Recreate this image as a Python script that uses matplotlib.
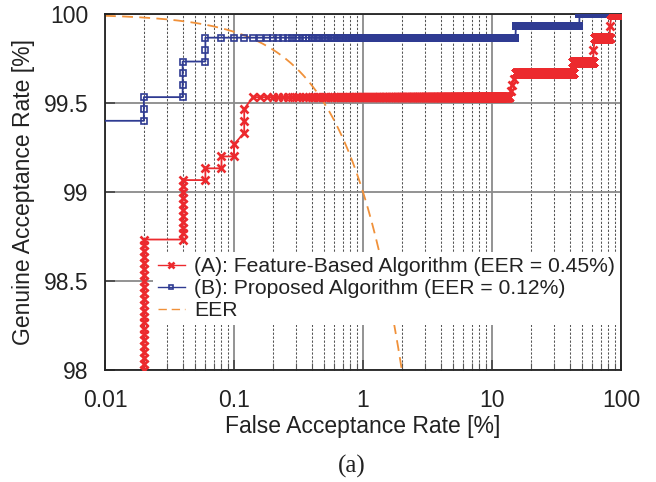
import numpy as np
import matplotlib
matplotlib.use("Agg")
import matplotlib.pyplot as plt
from matplotlib.ticker import LogLocator, FixedLocator, NullFormatter

plt.rcParams['font.family'] = ['Liberation Sans', 'DejaVu Sans']

# ---------------- data ----------------
far_step = 0.02   # FAR sampling resolution [%] seen in marker spacing

# (A) Feature-Based Algorithm
red_col_002 = [97.967, 98.000, 98.033, 98.067, 98.100, 98.133, 98.167, 98.200,
               98.233, 98.267, 98.300, 98.333, 98.367, 98.400, 98.433, 98.467,
               98.500, 98.533, 98.567, 98.600, 98.633, 98.667, 98.700, 98.733]
red_col_004 = [98.733, 98.767, 98.800, 98.833, 98.867, 98.900, 98.933, 98.967,
               99.000, 99.033, 99.067]
red_pts_far = [0.06, 0.06, 0.08, 0.08, 0.10, 0.10, 0.12, 0.12, 0.12]
red_pts_gar = [99.067, 99.133, 99.133, 99.200, 99.200, 99.267, 99.333, 99.400, 99.467]
# flat runs: (GAR level, FAR start, FAR end), separated by single points
red_runs = [(99.533, 0.14, 13.5), (99.667, 15.3, 42.5), (99.733, 42.6, 61.0),
            (99.867, 62.8, 81.5), (100.0, 84.3, 100.0)]
red_between = [[(14.0, 99.567), (14.2, 99.600), (14.8, 99.633)],
               [],
               [(61.2, 99.800)],
               [(82.4, 99.933)],
               []]

# (B) Proposed Algorithm
blue_pts_far = [0.005, 0.02, 0.02, 0.02, 0.04, 0.04, 0.04, 0.04, 0.06, 0.06]
blue_pts_gar = [99.400, 99.400, 99.467, 99.533, 99.533, 99.600, 99.667, 99.733,
                99.733, 99.800]
blue_runs = [(99.867, 0.06, 15.2), (99.933, 15.3, 47.5), (100.0, 47.6, 100.0)]

x_ticks = [0.01, 0.1, 1, 10, 100]
x_tick_labels = ['0.01', '0.1', '1', '10', '100']
y_ticks = [98, 98.5, 99, 99.5, 100]
y_tick_labels = ['98', '98.5', '99', '99.5', '100']

legend_labels = ['(A): Feature-Based Algorithm (EER = 0.45%)',
                 '(B): Proposed Algorithm (EER = 0.12%)',
                 'EER']


def run_points(level, start, end):
    f = np.arange(start, end + 1e-9, far_step)
    if f[-1] < end - 1e-9:
        f = np.append(f, end)
    return list(f), [level] * len(f)


# build red series
red_far = [0.02] * len(red_col_002) + [0.04] * len(red_col_004) + red_pts_far
red_gar = list(red_col_002) + list(red_col_004) + red_pts_gar
for (lvl, s, e), extra in zip(red_runs, red_between):
    f, g = run_points(lvl, s, e)
    red_far += f
    red_gar += g
    for (ef, eg) in extra:
        red_far.append(ef)
        red_gar.append(eg)

# build blue series
blue_far = list(blue_pts_far)
blue_gar = list(blue_pts_gar)
for (lvl, s, e) in blue_runs:
    f, g = run_points(lvl, s, e)
    blue_far += f
    blue_gar += g

# EER line: GAR = 100 - FAR
eer_far = np.logspace(-2, np.log10(2.2), 400)
eer_gar = 100 - eer_far

# ---------------- figure ----------------
fig = plt.figure(figsize=(6.56, 4.82), dpi=100)
ax = fig.add_axes([105 / 656, 1 - 370 / 482, 516 / 656, 356 / 482])

RED = '#EC2A2E'
BLUE = '#2F3B92'
ORANGE = '#F0913A'

l_eer, = ax.plot(eer_far, eer_gar, color=ORANGE, lw=1.3, dashes=(6, 3.5),
                 zorder=2.5)
l_blue, = ax.plot(blue_far, blue_gar, color=BLUE, lw=1.3, marker='s', ms=4.9,
                  mfc='none', mec=BLUE, mew=1.2, zorder=3)
l_red, = ax.plot(red_far, red_gar, color=RED, lw=1.3, marker='x', ms=5.9,
                 mew=1.9, mec=RED, zorder=4)

ax.set_xscale('log')
ax.set_xlim(0.01, 100)
ax.set_ylim(98, 100)

ax.xaxis.set_major_locator(FixedLocator(x_ticks))
ax.set_xticklabels(x_tick_labels)
ax.xaxis.set_minor_locator(LogLocator(base=10, subs=np.arange(2, 10), numticks=20))
ax.xaxis.set_minor_formatter(NullFormatter())
ax.set_yticks(y_ticks)
ax.set_yticklabels(y_tick_labels)

ax.tick_params(axis='both', which='major', direction='in', length=7, width=1.2,
               color='#444444', labelsize=16.5, labelcolor='#222222')
ax.tick_params(axis='x', which='major', pad=14)
ax.tick_params(axis='y', which='major', pad=12)
ax.tick_params(axis='x', which='minor', direction='in', length=5, width=0.8,
               color='#555555')

ax.set_axisbelow(True)
ax.grid(True, which='major', axis='both', color='#8a8a8a', lw=1.3, ls='-')
ax.grid(True, which='minor', axis='x', color='#555555', lw=0.75,
        ls=(0, (2.2, 1.6)))

for sp in ax.spines.values():
    sp.set_linewidth(1.3)
    sp.set_color('#222222')

ax.set_xlabel('False Acceptance Rate [%]', fontsize=16.5, labelpad=2,
              color='#222222')
ax.set_ylabel('Genuine Acceptance Rate [%]', fontsize=16.5, labelpad=6,
              color='#222222')

leg = ax.legend([l_red, l_blue, l_eer], legend_labels, loc='upper left',
                bbox_to_anchor=(153 / 656, 1 - 252 / 482),
                bbox_transform=fig.transFigure, borderaxespad=0, numpoints=1,
                fontsize=15.2, frameon=True, fancybox=False, framealpha=1,
                facecolor='white', edgecolor='none', handlelength=1.25,
                handletextpad=0.45, labelspacing=0.14, borderpad=0.25,
                markerscale=0.7)
leg.set_zorder(3.5)
for h in leg.legend_handles:
    h.set_linewidth(1.0)
for t in leg.get_texts():
    t.set_color('#222222')

fig.text(352 / 656, 1 - 466 / 482, '(a)', ha='center', va='center',
         fontsize=18, family=['Liberation Serif', 'DejaVu Serif'],
         color='#222222')

fig.savefig('out.png', dpi=100)
